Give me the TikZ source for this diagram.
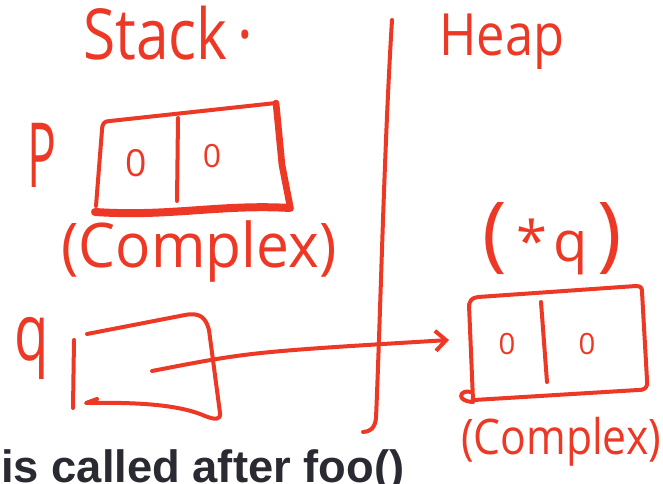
\documentclass[tikz,border=0pt]{standalone}
\usepackage{fontspec}
\usetikzlibrary{arrows.meta}
\newfontfamily\hand{Open Sans}
\newfontfamily\slide{Liberation Sans}
\definecolor{ink}{RGB}{236,56,36}
\definecolor{slidetext}{RGB}{42,42,50}
\newcommand{\fs}[1]{\fontsize{#1}{#1}\selectfont}
\begin{document}
\begin{tikzpicture}[x=0.75pt,y=-0.75pt,
  hand/.style={draw=ink, line width=3pt, line cap=round, line join=round},
  heavy/.style={hand, line width=5pt},
  lettering/.style={text=ink, inner sep=0pt, font=\hand, anchor=base},
  pointer/.style={hand, -{Straight Barb[length=8pt,width=15pt,line width=3pt]}}]
\useasboundingbox (0,0) rectangle (663,484);

% headings and the divider between stack and heap
\node[lettering, anchor=base west, yscale=1.2] (stack) at (83,60) {\fs{44}Stack\,·};
\node[lettering, anchor=base west, yscale=1.15] (heap) at (439,56) {\fs{38}Heap};
\draw[hand] (392,20) .. controls (384,150) and (381,300) .. (376,418)
            .. controls (375,428) and (370,432) .. (363,432);

% variable p on the stack
\node[lettering, xscale=0.8, yscale=1.5] (plabel) at (42,188) {\fs{45}P};
\draw[hand] (96,206) -- (102,130) .. controls (102,124) and (104,121) .. (110,121) -- (276,103);
\draw[heavy] (276,103) -- (282,165) -- (290,206);
\draw[heavy, line width=6pt] (95,212) .. controls (170,217) and (220,204) .. (290,208);
\draw[hand] (178,118) -- (177,201);
\node[lettering] (pre) at (136,177) {\fs{28}0};
\node[lettering] (pim) at (212,168) {\fs{24}0};
\node[lettering, yscale=1.05] (ptype) at (199,268) {\fs{44}(Complex)};

% variable q on the stack
\node[lettering, xscale=0.78, yscale=1.1] (qlabel) at (32,360) {\fs{54}q};
\draw[hand] (74,340) -- (73,408);
\draw[hand] (87,334) -- (185,315) .. controls (200,312) and (206,318) .. (209,330)
            -- (220,413) .. controls (221,420) and (215,420) .. (205,416)
            .. controls (180,405) and (140,402) .. (86,403) -- (97,399);

% object *q on the heap
\node[lettering] (deref) at (552,262)
  {\fs{62}(\hspace{7pt}\fs{42}*\hspace{5pt}q\hspace{7pt}\fs{62})};
\draw[hand] (469,308) .. controls (469,300) and (472,298) .. (478,297) -- (636,286)
            .. controls (641,286) and (642,288) .. (642,292) -- (647,380)
            .. controls (648,388) and (645,390) .. (638,390) -- (474,400);
\draw[hand] (469,305) -- (473,400);
\draw[hand] (471,392) .. controls (460,389) and (455,401) .. (473,402);
\draw[hand] (541,302) -- (547,382);
\node[lettering] (hre) at (507,354) {\fs{22}0};
\node[lettering] (him) at (587,354) {\fs{22}0};
\node[lettering, yscale=1.15] (htype) at (561,454) {\fs{32}(Complex)};

% q points to the heap object
\coordinate (qslot) at (152,371);
\coordinate (heapside) at (449,340);
\draw[pointer] (qslot) .. controls (250,352) .. (heapside);

% slide caption, cut by the lower edge
\node[font=\slide\bfseries\fs{34}, text=slidetext, anchor=base west, inner sep=0pt]
  (caption) at (1,482) {is called after foo()};
\end{tikzpicture}
\end{document}
